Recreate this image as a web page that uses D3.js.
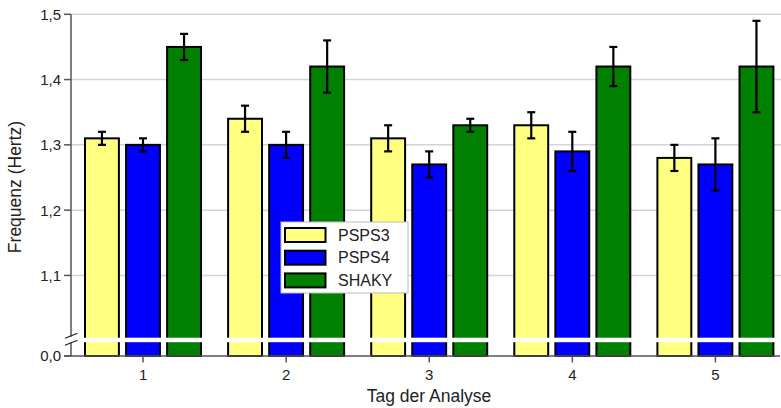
<!DOCTYPE html>
<html><head><meta charset="utf-8">
<script src="https://cdn.jsdelivr.net/npm/d3@7"></script>
<style>body{margin:0;background:#fff}svg{display:block}text{font-family:"Liberation Sans",Arial,sans-serif;fill:#222}</style>
</head><body><svg id="c" width="781" height="408"></svg>
<script>
const days = ["1","2","3","4","5"];
const series = ["PSPS3","PSPS4","SHAKY"];
const colors = ["#ffff80","#0000ff","#008000"];
const psps3 = [1.31,1.34,1.31,1.33,1.28];
const psps3Err = [0.01,0.02,0.02,0.02,0.02];
const psps4 = [1.30,1.30,1.27,1.29,1.27];
const psps4Err = [0.01,0.02,0.02,0.03,0.04];
const shaky = [1.45,1.42,1.33,1.42,1.42];
const shakyErr = [0.02,0.04,0.01,0.03,0.07];
const yTicks = [0.0,1.1,1.2,1.3,1.4,1.5];
const yTickLabels = ["0,0","1,1","1,2","1,3","1,4","1,5"];

const vals=[psps3,psps4,shaky], errs=[psps3Err,psps4Err,shakyErr];
const svg=d3.select("#c");
const x0=d3.scaleBand().domain(days).range([71.5,787]);
const x1=d3.scaleBand().domain(series).range([13.5,130.5]).paddingInner(0.15);
const y=d3.scaleLinear().domain([0,1.0,1.5]).range([356,340.7,14.3]);

// grid
svg.append("g").selectAll("line").data(yTicks.filter(d=>d>0)).join("line")
 .attr("x1",71).attr("x2",781).attr("y1",d=>y(d)).attr("y2",d=>y(d))
 .attr("stroke","#d4d4d4").attr("stroke-width",1.5);

// bars
const data=[];
days.forEach((d,i)=>series.forEach((s,j)=>data.push({d,s,j,v:vals[j][i],e:errs[j][i]})));
svg.append("g").selectAll("rect").data(data).join("rect")
 .attr("x",d=>x0(d.d)+x1(d.s)).attr("width",x1.bandwidth()-1)
 .attr("y",d=>y(d.v)).attr("height",d=>y(0)-y(d.v))
 .attr("fill",d=>colors[d.j]).attr("stroke","#000").attr("stroke-width",2);

// break band
const yb=y(1.0);
svg.append("rect").attr("x",76).attr("width",705).attr("y",yb-3).attr("height",4.5).attr("fill","#fff");

// error bars
const eg=svg.append("g").attr("stroke","#000").attr("stroke-width",2.2);
data.forEach(d=>{
 const cx=x0(d.d)+x1(d.s)+(x1.bandwidth()-1)/2;
 eg.append("line").attr("x1",cx).attr("x2",cx).attr("y1",y(d.v+d.e)).attr("y2",y(d.v-d.e));
 eg.append("line").attr("x1",cx-4).attr("x2",cx+4).attr("y1",y(d.v+d.e)).attr("y2",y(d.v+d.e));
 eg.append("line").attr("x1",cx-4).attr("x2",cx+4).attr("y1",y(d.v-d.e)).attr("y2",y(d.v-d.e));
});

// y axis
const ax="#555";
svg.append("line").attr("x1",71).attr("x2",71).attr("y1",y(1.5)).attr("y2",yb-4).attr("stroke",ax).attr("stroke-width",1.5);
svg.append("line").attr("x1",71).attr("x2",71).attr("y1",yb+2).attr("y2",y(0)).attr("stroke",ax).attr("stroke-width",1.5);
svg.append("line").attr("x1",65).attr("x2",77.5).attr("y1",yb-2.5).attr("y2",yb-7.5).attr("stroke","#222").attr("stroke-width",1.2);
svg.append("line").attr("x1",65).attr("x2",77.5).attr("y1",yb+4.5).attr("y2",yb-0.5).attr("stroke","#222").attr("stroke-width",1.2);
const yg=svg.append("g");
yTicks.forEach((t,i)=>{
 yg.append("line").attr("x1",64).attr("x2",71).attr("y1",y(t)).attr("y2",y(t)).attr("stroke",ax).attr("stroke-width",1.5);
 yg.append("text").attr("x",61).attr("y",y(t)).attr("dy","0.36em").attr("text-anchor","end").attr("font-size",15).text(yTickLabels[i]);
});

// x axis
svg.append("line").attr("x1",64).attr("x2",780).attr("y1",356).attr("y2",356).attr("stroke",ax).attr("stroke-width",1.5);
const xg=svg.append("g");
days.forEach(d=>{
 const cx=x0(d)+x0.bandwidth()/2;
 xg.append("line").attr("x1",cx).attr("x2",cx).attr("y1",356).attr("y2",362.5).attr("stroke",ax).attr("stroke-width",1.5);
 xg.append("text").attr("x",cx).attr("y",379.5).attr("text-anchor","middle").attr("font-size",15).text(d);
});

// titles
svg.append("text").attr("x",429).attr("y",402).attr("text-anchor","middle").attr("font-size",17.5).text("Tag der Analyse");
svg.append("text").attr("transform","translate(21,187) rotate(-90)").attr("text-anchor","middle").attr("font-size",17.5).text("Frequenz (Hertz)");

// legend
const lg=svg.append("g");
lg.append("rect").attr("x",281).attr("y",222).attr("width",127).attr("height",71).attr("fill","#fff").attr("stroke","#bbb").attr("stroke-width",1);
series.forEach((s,j)=>{
 const ty=228+j*22.7;
 lg.append("rect").attr("x",285).attr("y",ty).attr("width",40.5).attr("height",14).attr("fill",colors[j]).attr("stroke","#000").attr("stroke-width",2);
 lg.append("text").attr("x",338).attr("y",ty+12.7).attr("font-size",16).text(s);
});
</script></body></html>
